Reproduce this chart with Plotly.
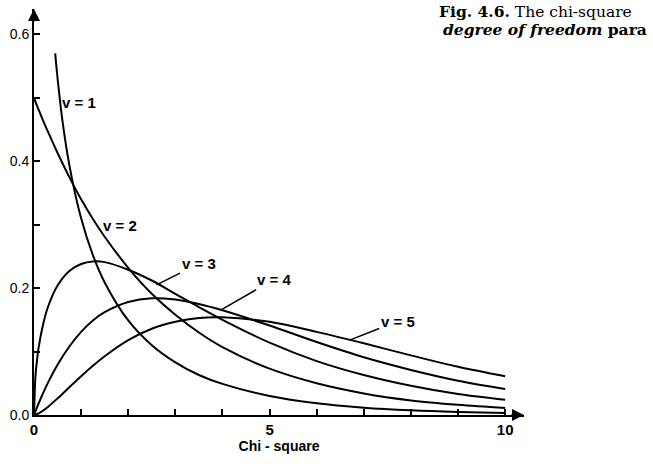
import plotly.graph_objects as go

# Values (x on the drawn Chi-square axis)
x_grid = [0, 0.03, 0.05, 0.1, 0.2, 0.3, 0.5, 0.75, 1, 1.25, 1.5, 2, 2.5, 3, 3.5, 4, 5, 6, 7, 8, 9, 10]

x_v1 = [0.45, 0.5, 0.6, 0.75, 1, 1.25, 1.5, 2, 2.5, 3, 3.5, 4, 5, 6, 7, 8, 9, 10]
y_v1 = [0.570, 0.531, 0.466, 0.394, 0.310, 0.252, 0.209, 0.149, 0.110, 0.083, 0.063, 0.049, 0.030, 0.0185, 0.0116, 0.0074, 0.0048, 0.0031]

y_v2 = [0.500, 0.494, 0.490, 0.481, 0.463, 0.446, 0.413, 0.375, 0.340, 0.309, 0.281, 0.232, 0.191, 0.158, 0.130, 0.107, 0.073, 0.050, 0.034, 0.023, 0.016, 0.011]
y_v3 = [0.0, 0.060, 0.077, 0.107, 0.145, 0.171, 0.204, 0.227, 0.238, 0.242, 0.241, 0.229, 0.212, 0.191, 0.170, 0.150, 0.114, 0.085, 0.063, 0.046, 0.033, 0.024]
y_v4 = [0.0, 0.0056, 0.0093, 0.0185, 0.0356, 0.0514, 0.0793, 0.108, 0.131, 0.149, 0.162, 0.178, 0.184, 0.182, 0.175, 0.165, 0.141, 0.115, 0.091, 0.071, 0.054, 0.041]
y_v5 = [0.0, 0.0005, 0.0011, 0.0027, 0.0074, 0.0131, 0.0262, 0.0437, 0.0611, 0.0775, 0.0926, 0.118, 0.136, 0.147, 0.153, 0.154, 0.147, 0.131, 0.113, 0.094, 0.076, 0.061]

x_ticks = [0, 1, 2, 3, 4, 5, 6, 7, 8, 9, 10]
x_tick_text = ["<b>0</b>", "", "", "", "", "<b>5</b>", "", "", "", "", "<b>10</b>"]
y_ticks = [0.0, 0.1, 0.2, 0.3, 0.4, 0.5, 0.6]
y_tick_text = ["0.0", "", "0.2", "", "0.4", "", "0.6"]

line_style = dict(color="black", width=2, shape="spline", smoothing=1.0)

fig = go.Figure()
fig.add_trace(go.Scatter(x=x_v1, y=y_v1, mode="lines", line=line_style, hoverinfo="skip"))
for ys in (y_v2, y_v3, y_v4, y_v5):
    fig.add_trace(go.Scatter(x=x_grid, y=ys, mode="lines", line=line_style, hoverinfo="skip"))

label_font = dict(family="Liberation Sans", size=15, color="black")
annots = [
    dict(x=0.955, y=0.493, text="<b>v = 1</b>", showarrow=False),
    dict(x=1.83, y=0.299, text="<b>v = 2</b>", showarrow=False),
    dict(x=2.6, y=0.205, text="<b>v = 3</b>", showarrow=True, arrowhead=0, arrowwidth=1.5,
         ax=42, ay=-21, standoff=0),
    dict(x=3.98, y=0.166, text="<b>v = 4</b>", showarrow=True, arrowhead=0, arrowwidth=1.5,
         ax=52, ay=-30, standoff=0),
    dict(x=6.7, y=0.118, text="<b>v = 5</b>", showarrow=True, arrowhead=0, arrowwidth=1.5,
         ax=48, ay=-19, standoff=0),
]
for a in annots:
    a.update(font=label_font, xref="x", yref="y", arrowcolor="black")
    fig.add_annotation(**a)

# axis arrowheads
fig.add_annotation(x=10.4, y=0, xref="x", yref="y", text="", showarrow=True, arrowhead=2,
                   arrowsize=1.2, arrowwidth=2, arrowcolor="black", ax=-14, ay=0, standoff=0)
fig.add_annotation(x=0, y=0.64, xref="x", yref="y", text="", showarrow=True, arrowhead=2,
                   arrowsize=1.2, arrowwidth=2, arrowcolor="black", ax=0, ay=14, standoff=0)

# caption fragment at top right
cap_font = dict(family="DejaVu Serif", size=15.5, color="black")
fig.add_annotation(x=0.822, y=0.995, xref="paper", yref="paper", xanchor="left", yanchor="middle",
                   text="<b>Fig. 4.6.</b> The chi-square", showarrow=False, font=cap_font)
fig.add_annotation(x=0.830, y=0.950, xref="paper", yref="paper", xanchor="left", yanchor="middle",
                   text="<b><i>degree of freedom</i> para</b>", showarrow=False, font=cap_font)

fig.update_layout(
    width=653, height=466,
    margin=dict(l=34, r=129, t=9, b=51),
    paper_bgcolor="white", plot_bgcolor="white",
    showlegend=False,
    xaxis=dict(range=[0, 10.4], showgrid=False, zeroline=False, showline=True, linecolor="black",
               linewidth=2, ticks="inside", ticklen=6, tickwidth=1.5, tickcolor="black",
               tickvals=x_ticks, ticktext=x_tick_text,
               tickfont=dict(family="Liberation Sans", size=15, color="black"),
               title=dict(text="<b>Chi - square</b>", standoff=4,
                          font=dict(family="Liberation Sans", size=14, color="black"))),
    yaxis=dict(range=[0, 0.64], showgrid=False, zeroline=False, showline=True, linecolor="black",
               linewidth=2, ticks="inside", ticklen=6, tickwidth=1.5, tickcolor="black",
               tickvals=y_ticks, ticktext=y_tick_text,
               tickfont=dict(family="Liberation Sans", size=14, color="black")),
)

# remove the page's default body margin so the figure sits at the window's top-left
fig.write_html("out.html", config={"displayModeBar": False},
               post_script="document.body.style.margin='0';")
